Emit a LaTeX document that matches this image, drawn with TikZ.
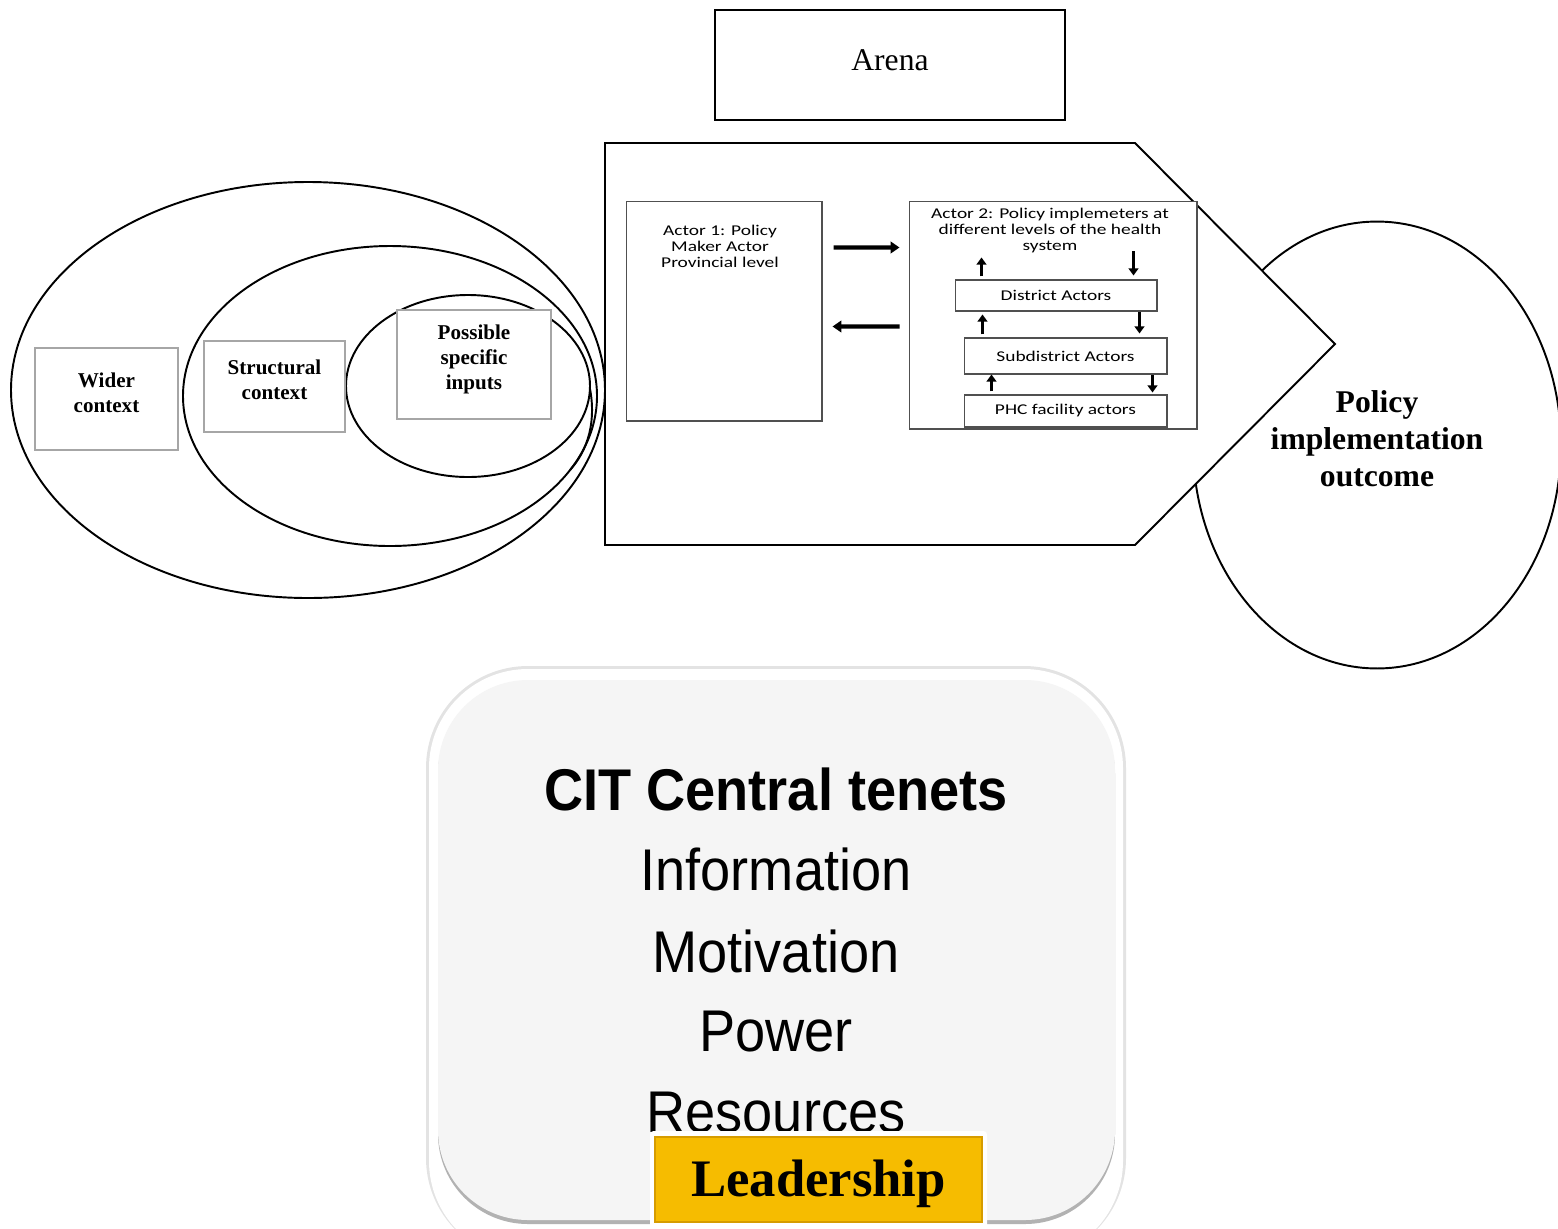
\documentclass[tikz,border=0pt]{standalone}
\usepackage{fontspec}
\setmainfont{Liberation Serif}
\newfontfamily\calfont[FakeStretch=1.3]{Carlito}
\newfontfamily\citfont[FakeStretch=0.92]{Liberation Sans}
\usetikzlibrary{arrows.meta,calc,shapes.geometric}
\definecolor{ctxline}{RGB}{166,166,166}
\definecolor{actline}{RGB}{80,80,80}
\definecolor{panelgray}{RGB}{245,245,245}
\definecolor{goldfill}{RGB}{246,188,0}
\definecolor{goldedge}{RGB}{214,156,0}
\begin{document}
\begin{tikzpicture}[x=0.02cm,y=-0.02cm,
    ctxbox/.style={draw=ctxline, line width=1.4pt, fill=white, inner sep=0pt},
    ctxtext/.style={align=center, inner sep=0pt, font=\bfseries\fontsize{12}{14.2}\selectfont},
    actbox/.style={draw=actline, line width=0.6pt, fill=white, inner sep=0pt},
    acttext/.style={align=center, inner sep=0pt, font=\calfont\fontsize{8.5}{9.1}\selectfont},
    bigarrow/.style={line width=2.3pt, -{Triangle[length=5pt,width=6.5pt]}},
    tinyarrow/.style={line width=2pt, -{Triangle[length=4pt,width=5.5pt]}},
    citline/.style={inner sep=0pt, font=\citfont\fontsize{33.5}{40}\selectfont}]
  \useasboundingbox (0,0) rectangle (1558,1228);

  % arena
  \node[draw, line width=1.6pt, minimum width=7cm, minimum height=2.2cm] (arena) at (890,65) {};
  \node[inner sep=0pt, font=\fontsize{18}{21}\selectfont] (arenatxt) at (890,60) {Arena};

  % context ellipses
  \draw[line width=1.1pt] (308,390) ellipse [x radius=297, y radius=208];
  \draw[line width=1.1pt] (390,396) ellipse [x radius=207, y radius=150];
  \draw[line width=1.1pt] (535,310) .. controls (585,335) and (615,420) .. (570,470);
  \draw[line width=1.1pt, fill=white] (468,386) ellipse [x radius=122, y radius=91];

  \node[ctxbox, minimum width=2.86cm, minimum height=2.04cm] (wider) at (106.5,399) {};
  \node[ctxtext] (widertxt) at (106.5,392.5) {Wider\\context};
  \node[ctxbox, minimum width=2.82cm, minimum height=1.82cm] (struct) at (274.5,386.5) {};
  \node[ctxtext] (structtxt) at (274.5,380) {Structural\\context};
  \node[ctxbox, minimum width=3.08cm, minimum height=2.18cm] (inputs) at (474,364.5) {};
  \node[ctxtext] (inputstxt) at (474,359) {Possible\\specific\\inputs};

  % outcome ellipse, partly behind the arrow shape
  \node[draw, ellipse, line width=1.1pt, minimum width=7.36cm, minimum height=8.94cm] (outcome) at (1377,445) {};
  \node[align=center, inner sep=0pt, font=\bfseries\fontsize{18}{21}\selectfont] (outcometxt) at (1377,439) {Policy\\implementation\\outcome};

  % arrow shaped arena
  \draw[line width=1.1pt, fill=white] (605,143) -- (1135,143) -- (1335,344) -- (1135,545) -- (605,545) -- cycle;

  % actor 1
  \node[actbox, minimum width=3.92cm, minimum height=4.4cm] (act1) at (724,311) {};
  \node[acttext, anchor=north] (act1txt) at (720,225) {Actor 1: Policy\\Maker Actor\\Provincial level};

  % actor 2 and its levels
  \node[actbox, minimum width=5.76cm, minimum height=4.56cm] (act2) at (1053,315) {};
  \node[acttext, anchor=north] (act2txt) at (1050,208) {Actor 2: Policy implemeters at\\different levels of the health\\system};
  \node[actbox, minimum width=4.04cm, minimum height=0.62cm, acttext] (dist) at (1056,295.5) {District Actors};
  \node[actbox, minimum width=4.06cm, minimum height=0.72cm, acttext] (subdist) at (1065.5,356) {Subdistrict Actors};
  \node[actbox, minimum width=4.06cm, minimum height=0.64cm, acttext] (phc) at (1065.5,411) {PHC facility actors};

  % arrows between actors
  \draw[bigarrow] ($(act1.north east)+(11,47)$) -- ($(act2.north west)+(-9,47)$);
  \draw[bigarrow] ($(act2.north west)+(-9,126)$) -- ($(act1.north east)+(10,126)$);

  % up and down arrows
  \draw[tinyarrow] ($(dist.north west)+(27,-3)$) -- ($(dist.north west)+(27,-22)$);
  \draw[tinyarrow] ($(dist.north west)+(179,-28)$) -- ($(dist.north west)+(179,-4)$);
  \draw[tinyarrow] ($(subdist.north west)+(19,-3)$) -- ($(subdist.north west)+(19,-23)$);
  \draw[tinyarrow] ($(subdist.north west)+(176,-25)$) -- ($(subdist.north west)+(176,-4)$);
  \draw[tinyarrow] ($(phc.north west)+(28,-3)$) -- ($(phc.north west)+(28,-20)$);
  \draw[tinyarrow] ($(phc.north west)+(189,-19)$) -- ($(phc.north west)+(189,-2)$);

  % tenets panel
  \fill[gray!22, rounded corners=2.04cm] (426,666) rectangle (1126,1260);
  \fill[white, rounded corners=1.98cm] (429,669) rectangle (1123,1260);
  \fill[gray!60, rounded corners=1.8cm] (438,684) rectangle (1115,1224);
  \fill[panelgray, rounded corners=1.8cm] (438,680) rectangle (1115,1220);

  \node[citline, font=\citfont\bfseries\fontsize{33.5}{40}\selectfont] (cit) at (776,789) {CIT Central tenets};
  \node[citline] (info) at (776,869) {Information};
  \node[citline] (motiv) at (776,951) {Motivation};
  \node[citline] (power) at (776,1032) {Power};
  \node[citline] (resour) at (776,1113) {Resources};

  % leadership
  \fill[white, rounded corners=2pt] (650,1131) rectangle (987,1240);
  \node[fill=goldfill, draw=goldedge, line width=1.2pt, minimum width=6.54cm, minimum height=1.7cm] (lead) at (818.5,1179.5) {};
  \node[inner sep=0pt, font=\bfseries\fontsize{30}{34}\selectfont] (leadtxt) at (818.5,1184) {Leadership};
\end{tikzpicture}
\end{document}
